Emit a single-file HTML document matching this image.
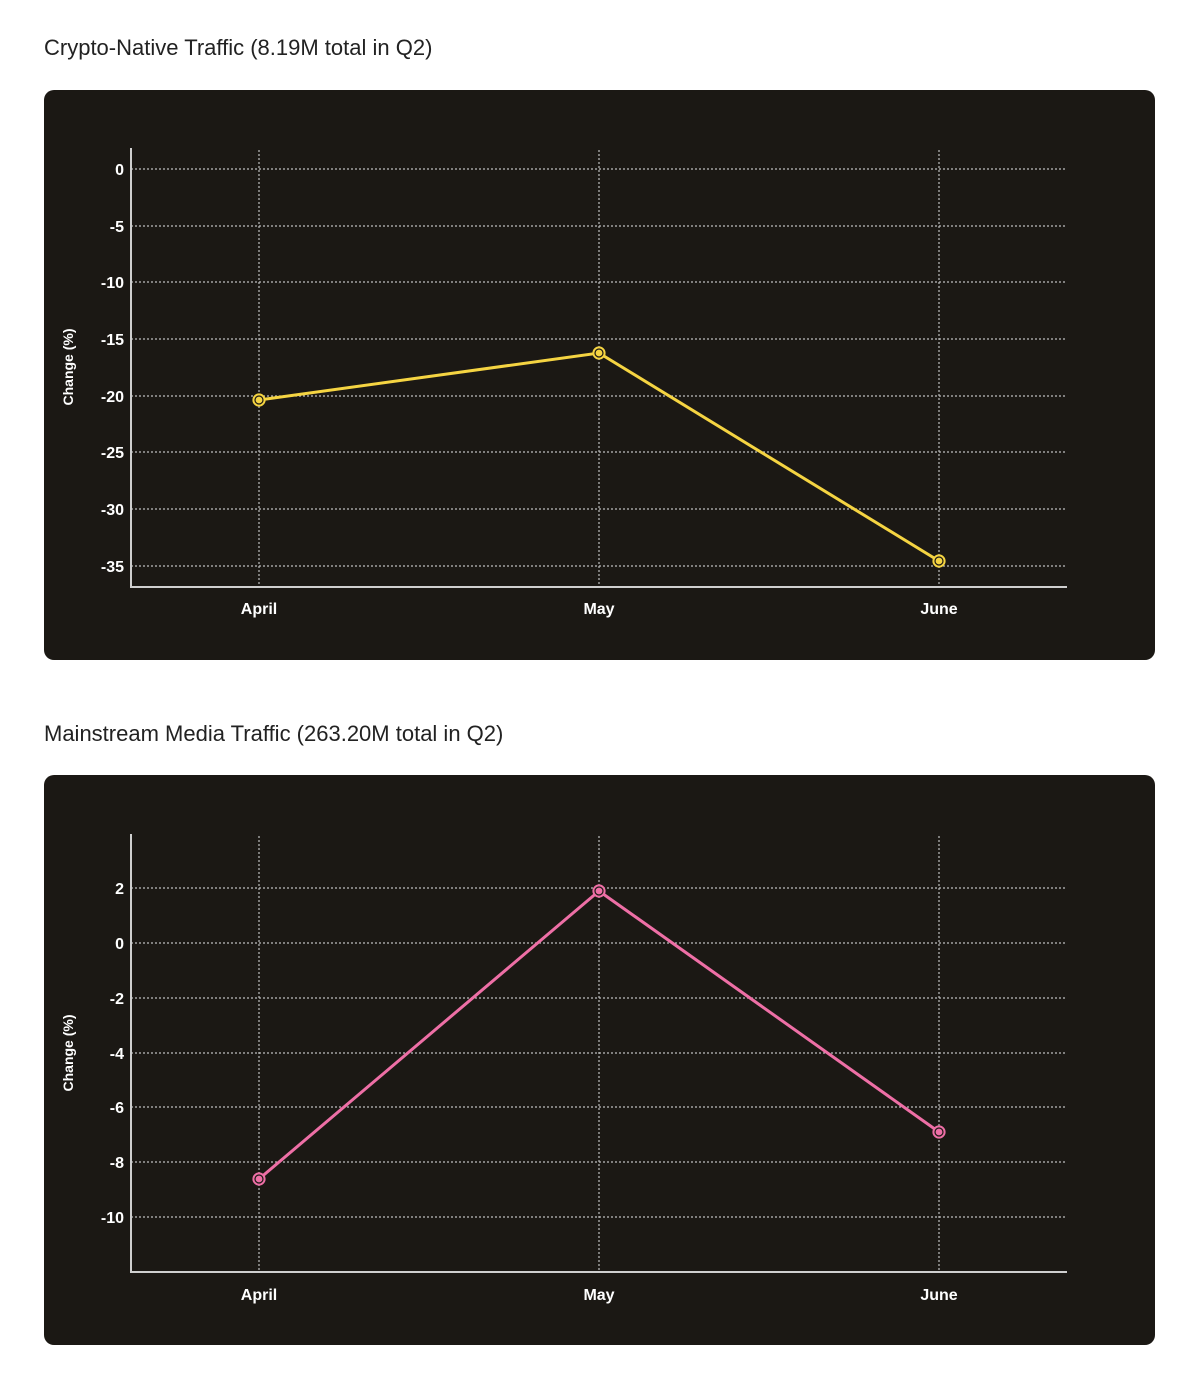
<!DOCTYPE html>
<html><head><meta charset="utf-8"><style>
html,body{margin:0;padding:0;background:#fff;}
body{width:1200px;height:1384px;position:relative;font-family:"Liberation Sans",sans-serif;}
svg{position:absolute;left:0;top:0;}
</style></head><body>
<svg width="1200" height="1384" viewBox="0 0 1200 1384" xmlns="http://www.w3.org/2000/svg" font-family="Liberation Sans, sans-serif">
<text x="44" y="55" font-size="22" fill="#222">Crypto-Native Traffic (8.19M total in Q2)</text>
<rect x="44" y="90" width="1111" height="570" rx="10" fill="#1b1814"/>
<g stroke="#bdbdbd" stroke-width="1.2" stroke-dasharray="2,2">
<line x1="131" x2="1066" y1="169" y2="169"/><line x1="131" x2="1066" y1="226" y2="226"/>
<line x1="131" x2="1066" y1="282" y2="282"/><line x1="131" x2="1066" y1="339" y2="339"/>
<line x1="131" x2="1066" y1="396" y2="396"/><line x1="131" x2="1066" y1="452" y2="452"/>
<line x1="131" x2="1066" y1="509" y2="509"/><line x1="131" x2="1066" y1="566" y2="566"/>
<line x1="259" x2="259" y1="150" y2="587"/><line x1="599" x2="599" y1="150" y2="587"/><line x1="939" x2="939" y1="150" y2="587"/>
</g>
<path d="M131 148V587H1067" fill="none" stroke="#cfcfcf" stroke-width="2"/>
<g fill="#fff" font-size="16" font-weight="bold" text-anchor="end">
<text x="124" y="175">0</text><text x="124" y="232">-5</text><text x="124" y="288">-10</text><text x="124" y="345">-15</text>
<text x="124" y="402">-20</text><text x="124" y="458">-25</text><text x="124" y="515">-30</text><text x="124" y="572">-35</text>
</g>
<g fill="#fff" font-size="16" font-weight="bold" text-anchor="middle">
<text x="259" y="614">April</text><text x="599" y="614">May</text><text x="939" y="614">June</text>
</g>
<text transform="translate(73,367) rotate(-90)" fill="#fff" font-size="14" font-weight="bold" text-anchor="middle">Change (%)</text>
<polyline points="259,400 599,353 939,561" fill="none" stroke="#f5d442" stroke-width="3"/>
<g fill="#f5d442" stroke="#1b1814" stroke-width="1.2">
<circle cx="259" cy="400" r="6" stroke="#f5d442"/><circle cx="259" cy="400" r="4"/>
<circle cx="599" cy="353" r="6" stroke="#f5d442"/><circle cx="599" cy="353" r="4"/>
<circle cx="939" cy="561" r="6" stroke="#f5d442"/><circle cx="939" cy="561" r="4"/>
</g>

<text x="44" y="741" font-size="22" fill="#222">Mainstream Media Traffic (263.20M total in Q2)</text>
<rect x="44" y="775" width="1111" height="570" rx="10" fill="#1b1814"/>
<g stroke="#bdbdbd" stroke-width="1.2" stroke-dasharray="2,2">
<line x1="131" x2="1066" y1="888" y2="888"/><line x1="131" x2="1066" y1="943" y2="943"/>
<line x1="131" x2="1066" y1="998" y2="998"/><line x1="131" x2="1066" y1="1053" y2="1053"/>
<line x1="131" x2="1066" y1="1107" y2="1107"/><line x1="131" x2="1066" y1="1162" y2="1162"/>
<line x1="131" x2="1066" y1="1217" y2="1217"/>
<line x1="259" x2="259" y1="836" y2="1272"/><line x1="599" x2="599" y1="836" y2="1272"/><line x1="939" x2="939" y1="836" y2="1272"/>
</g>
<path d="M131 834V1272H1067" fill="none" stroke="#cfcfcf" stroke-width="2"/>
<g fill="#fff" font-size="16" font-weight="bold" text-anchor="end">
<text x="124" y="894">2</text><text x="124" y="949">0</text><text x="124" y="1004">-2</text><text x="124" y="1059">-4</text>
<text x="124" y="1113">-6</text><text x="124" y="1168">-8</text><text x="124" y="1223">-10</text>
</g>
<g fill="#fff" font-size="16" font-weight="bold" text-anchor="middle">
<text x="259" y="1300">April</text><text x="599" y="1300">May</text><text x="939" y="1300">June</text>
</g>
<text transform="translate(73,1053) rotate(-90)" fill="#fff" font-size="14" font-weight="bold" text-anchor="middle">Change (%)</text>
<polyline points="259,1179 599,891 939,1132" fill="none" stroke="#ee6fa6" stroke-width="3"/>
<g fill="#ee6fa6" stroke="#1b1814" stroke-width="1.2">
<circle cx="259" cy="1179" r="6" stroke="#ee6fa6"/><circle cx="259" cy="1179" r="4"/>
<circle cx="599" cy="891" r="6" stroke="#ee6fa6"/><circle cx="599" cy="891" r="4"/>
<circle cx="939" cy="1132" r="6" stroke="#ee6fa6"/><circle cx="939" cy="1132" r="4"/>
</g>
</svg>
</body></html>
